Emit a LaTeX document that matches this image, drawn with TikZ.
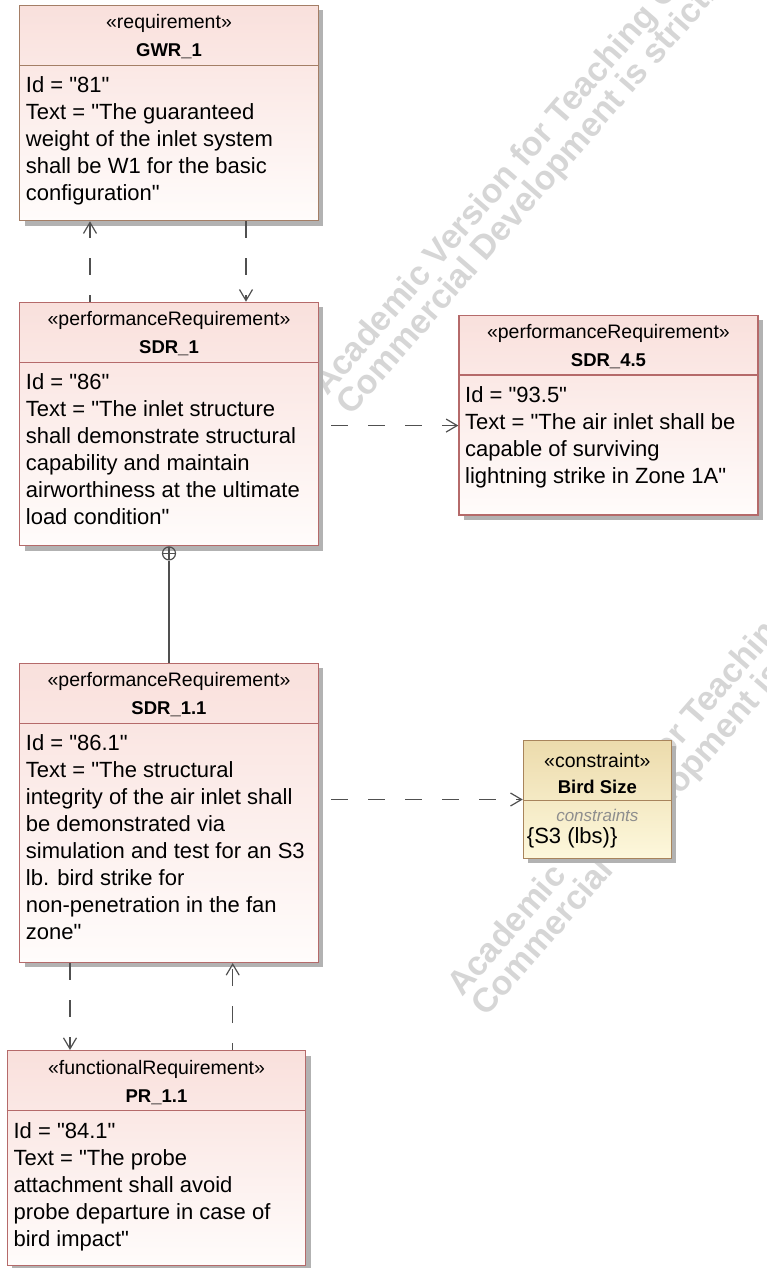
\documentclass[tikz,border=0pt]{standalone}
\usepackage{fontspec}
\setmainfont{Liberation Sans}[Ligatures=TeXOff]
\usetikzlibrary{arrows.meta,shadows}

\definecolor{reqtop}{HTML}{F9E0DC}
\definecolor{reqbot}{HTML}{FFFCFB}
\definecolor{reqedge}{HTML}{B56A6A}
\definecolor{gwredge}{HTML}{A47E66}
\definecolor{contop}{HTML}{ECDBAC}
\definecolor{conbot}{HTML}{FDF8DC}
\definecolor{conedge}{HTML}{A8845C}
\definecolor{linkgray}{HTML}{505050}
\definecolor{shadowgray}{HTML}{B2B2B2}
\definecolor{hintgray}{HTML}{8E8E8E}

\tikzset{
  anybox/.style={rectangle, inner sep=0pt, anchor=north west, line width=1.3pt,
    shading angle=45,
    drop shadow={shadow xshift=5pt, shadow yshift=-5pt, fill=shadowgray, opacity=1}},
  reqbox/.style={anybox, draw=reqedge, top color=reqtop, bottom color=reqbot},
  gwrbox/.style={anybox, draw=gwredge, top color=reqtop, bottom color=reqbot},
  conbox/.style={anybox, draw=conedge, top color=contop, bottom color=conbot},
  stereo/.style={anchor=base, inner sep=0pt, font=\fontsize{19.5pt}{23pt}\selectfont},
  boxname/.style={anchor=base, inner sep=0pt, font=\fontsize{18.5pt}{23pt}\selectfont\bfseries},
  bodytext/.style={anchor=base west, inner sep=0pt, font=\fontsize{22pt}{27pt}\selectfont},
  hinttext/.style={anchor=base, inner sep=0pt, text=hintgray, font=\fontsize{17pt}{20pt}\selectfont\itshape},
  dep/.style={draw=linkgray, line width=1.2pt, dash pattern=on 17pt off 20pt,
    -{Straight Barb[length=11pt,width=13pt,line width=1.2pt]}},
  nestline/.style={draw=linkgray, line width=1.2pt},
  nestmark/.style={circle, draw=linkgray, line width=1.2pt, minimum size=13pt, inner sep=0pt,
    path picture={\draw[linkgray, line width=1.2pt]
      (path picture bounding box.north) -- (path picture bounding box.south)
      (path picture bounding box.west) -- (path picture bounding box.east);}},
  watermark/.style={anchor=base west, inner sep=0pt, rotate=49, text=black!16,
    font=\fontsize{34pt}{34pt}\selectfont\bfseries}
}

% header (stereotype, name, divider) of a requirement box
\newcommand\reqhead[4]{%
  \node[stereo] (#1-st) at ([yshift=-24pt]#1.north) {#2};
  \node[boxname] (#1-nm) at ([yshift=-52pt]#1.north) {#3};
  \draw[draw=#4, line width=1.3pt] ([yshift=-60.5pt]#1.north west) -- ([yshift=-60.5pt]#1.north east);
  \coordinate (#1-b) at ([xshift=6.7pt,yshift=-88pt]#1.north west);
}
% body lines, one node per line, 27pt apart
\newcommand\reqbody[2]{%
  \foreach \ln [count=\i] in {#2} {
    \node[bodytext] (#1-l\i) at ([yshift={-(\i-1)*27pt}]#1-b) {\ln};
  }
}

\begin{document}
\begin{tikzpicture}[x=1pt,y=-1pt]
\useasboundingbox (0,0) rectangle (767,1268);
\fill[white] (0,0) rectangle (767,1268);
\clip (0,0) rectangle (767,1268);

% ---- tiled licence watermark, under the diagram ----
\node[watermark] (wm1a) at (327,397) {Academic Version for Teaching Only};
\node[watermark] (wm1b) at (351.5,417) {Commercial Development is strictly prohibited};
\node[watermark] (wm2a) at (462,998) {Academic Version for Teaching Only};
\node[watermark] (wm2b) at (486.5,1018) {Commercial Development is strictly prohibited};

% ---- boxes ----
\node[gwrbox, minimum width=298.7pt, minimum height=215.3pt] (gwr) at (19,4.7) {};
\reqhead{gwr}{«requirement»}{GWR\_1}{gwredge}
\reqbody{gwr}{Id = "81",
  Text = "The guaranteed,
  weight of the inlet system,
  shall be W1 for the basic,
  configuration"}

\node[reqbox, minimum width=298.7pt, minimum height=243.3pt] (sdr1) at (19,301.7) {};
\reqhead{sdr1}{«performanceRequirement»}{SDR\_1}{reqedge}
\reqbody{sdr1}{Id = "86",
  Text = "The inlet structure,
  shall demonstrate structural,
  capability and maintain,
  airworthiness at the ultimate,
  load condition"}

\node[reqbox, minimum width=299pt, minimum height=199.8pt] (sdr45) at (458.3,314.5) {};
\reqhead{sdr45}{«performanceRequirement»}{SDR\_4.5}{reqedge}
\reqbody{sdr45}{Id = "93.5",
  Text = "The air inlet shall be,
  capable of surviving,
  lightning strike in Zone 1A"}

\node[reqbox, minimum width=298.7pt, minimum height=299pt] (sdr11) at (19,662.7) {};
\reqhead{sdr11}{«performanceRequirement»}{SDR\_1.1}{reqedge}
\reqbody{sdr11}{Id = "86.1",
  Text = "The structural,
  integrity of the air inlet shall,
  be demonstrated via,
  simulation and test for an S3,
  lb. bird strike for,
  non-penetration in the fan,
  zone"}

\node[reqbox, minimum width=298.3pt, minimum height=215pt] (pr11) at (6.7,1050) {};
\reqhead{pr11}{«functionalRequirement»}{PR\_1.1}{reqedge}
\reqbody{pr11}{Id = "84.1",
  Text = "The probe,
  attachment shall avoid,
  probe departure in case of,
  bird impact"}

% constraint block
\node[conbox, minimum width=148pt, minimum height=117.7pt] (bird) at (522.7,740) {};
\node[stereo] (bird-st) at ([yshift=-27.5pt]bird.north) {«constraint»};
\node[boxname] (bird-nm) at ([yshift=-53pt]bird.north) {Bird Size};
\draw[draw=conedge, line width=1.3pt] ([yshift=-60.7pt]bird.north west) -- ([yshift=-60.7pt]bird.north east);
\node[hinttext] (bird-hint) at ([yshift=-81.5pt]bird.north) {constraints};
\node[bodytext] (bird-val) at ([xshift=4pt,yshift=-103pt]bird.north west) {\{S3 (lbs)\}};

% ---- connectors ----
\coordinate (up1) at ([xshift=71pt]gwr.south west);
\coordinate (dn1) at ([xshift=227pt]gwr.south west);
\draw[dep, dash phase=10pt] (sdr1.north -| up1) -- (up1);
\draw[dep] (dn1) -- (sdr1.north -| dn1);

\coordinate (to45) at ([yshift=-10.5pt]sdr45.west);
\draw[dep, dash phase=25pt] (sdr1.east |- to45) -- (to45);

\node[nestmark, anchor=north] (nest) at (sdr1.south) {};
\draw[nestline] (nest.south) -- (sdr11.north);

\draw[dep, dash phase=25pt] (sdr11.east |- bird.west) -- (bird.west);

\coordinate (dn2) at ([xshift=51pt]sdr11.south west);
\coordinate (up2) at ([xshift=213.7pt]sdr11.south west);
\draw[dep] (dn2) -- (pr11.north -| dn2);
\draw[dep, dash phase=10pt] (pr11.north -| up2) -- (up2);
\end{tikzpicture}
\end{document}
